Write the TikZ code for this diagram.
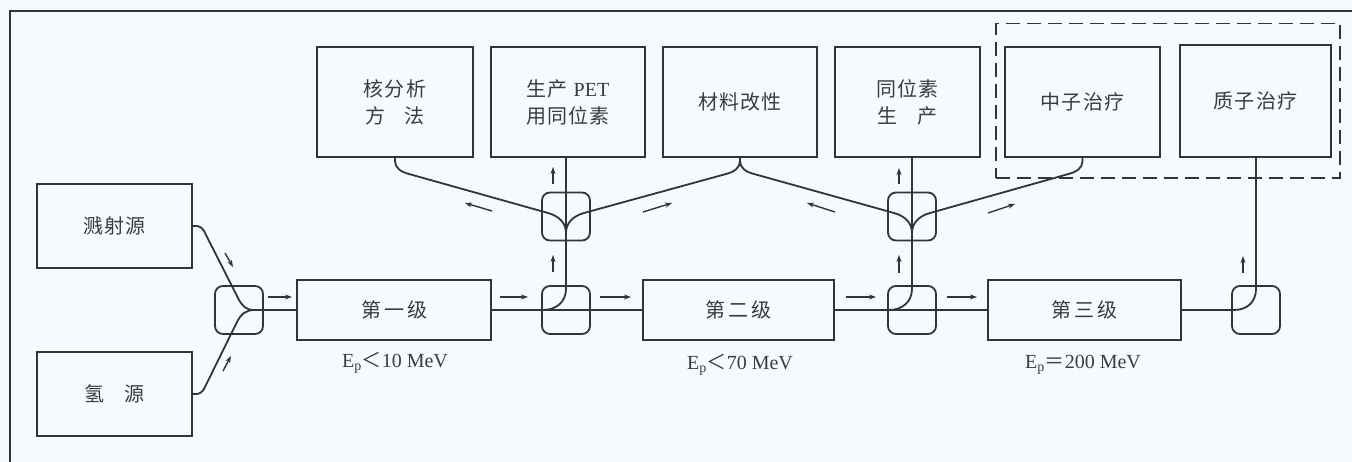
\documentclass[tikz,border=0pt]{standalone}
\usepackage{fontspec}
\setmainfont{Liberation Serif}
\newfontfamily\cjk[LetterSpace=6]{Noto Sans CJK SC}
\newfontfamily\cjkplain{Noto Sans CJK SC}
\usetikzlibrary{arrows.meta,fit}
\definecolor{ink}{RGB}{50,52,56}
\definecolor{paper}{RGB}{245,250,252}
\definecolor{txt}{RGB}{58,60,64}
\begin{document}
\begin{tikzpicture}[x=1pt,y=-1pt,
 box/.style={draw=ink,line width=1.8pt,inner sep=0pt,align=center,text=txt,font=\cjk\fontsize{20}{27}\selectfont},
 mbox/.style={draw=ink,line width=1.8pt,rounded corners=8pt,minimum width=48pt,minimum height=48pt,inner sep=0pt},
 conn/.style={draw=ink,line width=1.8pt},
 flow/.style={draw=ink,line width=1.4pt,-{Stealth[length=7pt,width=5pt]}},
 elabel/.style={text=txt,font=\fontsize{20}{22}\selectfont,inner sep=0pt}]

\fill[paper] (0,0) rectangle (1352,462);
\useasboundingbox (0,0) rectangle (1352,462);

% frame
\coordinate (fbl) at (10,462);
\coordinate (ftl) at (10,11);
\coordinate (ftr) at (1352,11);
\draw[ink,line width=1.4pt] (fbl) -- (ftl) -- (ftr);

% sources
\node[box,minimum width=155pt,minimum height=84pt] (src1) at (114.5,226) {溅射源};
\node[box,minimum width=155pt,minimum height=84pt] (src2) at (114.5,394) {氢\quad 源};

% switch boxes
\node[mbox] (mb1) at (239,310) {};
\node[mbox] (mb2) at (566,310) {};
\node[mbox] (mb3) at (912,310) {};
\node[mbox] (mb4) at (1256,310) {};
\node[mbox] (ub2) at (566,216.5) {};
\node[mbox] (ub3) at (912,216.5) {};

% stages
\node[box,minimum width=194pt,minimum height=60pt] (st1) at (394,310) {第\hspace{3pt}一\hspace{3pt}级};
\node[box,minimum width=191pt,minimum height=60pt] (st2) at (738.5,310) {第\hspace{3pt}二\hspace{3pt}级};
\node[box,minimum width=193pt,minimum height=60pt] (st3) at (1084.5,310) {第\hspace{3pt}三\hspace{3pt}级};

\node[elabel] (e1) at (395,363) {E\textsubscript{p}{\cjkplain ＜}10 MeV};
\node[elabel] (e2) at (740,365) {E\textsubscript{p}{\cjkplain ＜}70 MeV};
\node[elabel] (e3) at (1083,365) {E\textsubscript{p}{\cjkplain ＝}200 MeV};

% applications
\node[box,minimum width=156pt,minimum height=110pt] (t1) at (395,102) {核分析\\方\quad 法};
\node[box,minimum width=154pt,minimum height=110pt] (t2) at (568,102) {生产 {\rmfamily PET}\\用同位素};
\node[box,minimum width=154pt,minimum height=110pt] (t3) at (740,102) {材料改性};
\node[box,minimum width=145pt,minimum height=110pt] (t4) at (907.5,102) {同位素\\生\quad 产};
\node[box,minimum width=155pt,minimum height=110pt] (t5) at (1082.5,102) {中子治疗};
\node[box,minimum width=151pt,minimum height=112pt] (t6) at (1255.5,101) {质子治疗};
\node[draw=ink,line width=1.8pt,dash pattern=on 14pt off 7pt,fit=(t5)(t6),inner xsep=8pt,inner ysep=20.5pt] (grp) {};

% source merge
\coordinate (j1) at (254,310);
\draw[conn] (src1.east) -- (196,226) .. controls (200,226) and (202,228) .. (204,231) -- (238,298) .. controls (242,306) and (246,310) .. (j1);
\draw[conn] (src2.east) -- (196,394) .. controls (200,394) and (202,392) .. (204,389) -- (237,322) .. controls (241,314) and (246,310) .. (j1);

% main beam line
\draw[conn] (j1) -- (st1.west);
\draw[conn] (st1.east) -- (st2.west);
\draw[conn] (st2.east) -- (st3.west);
\coordinate (k4) at (1234,310);
\draw[conn] (st3.east) -- (k4) .. controls (1247,310) and (1256,302) .. (1256,289) -- (mb4.center |- t6.south);

% branches up
\coordinate (k2) at (543,310);
\draw[conn] (k2) .. controls (556,310) and (566,302) .. (566,289) -- (mb2.center |- t2.south);
\coordinate (k3) at (889,310);
\draw[conn] (k3) .. controls (902,310) and (912,302) .. (912,289) -- (mb3.center |- t4.south);

% V branches
\coordinate (J2) at (566,233);
\coordinate (J3) at (912,233);
\draw[conn] (t1.south) -- (395,161) .. controls (395,168) and (401,172) .. (409,174) -- (548,213) .. controls (559,216) and (566,223) .. (J2);
\draw[conn] (t3.south) -- (740,161) .. controls (740,168) and (734,172) .. (726,174) -- (584,213) .. controls (573,216) and (566,223) .. (J2);
\draw[conn] (740,161) .. controls (740,168) and (746,172) .. (754,174) -- (894,213) .. controls (905,216) and (912,223) .. (J3);
\draw[conn] (t5.south) -- (1082.5,161) .. controls (1082.5,168) and (1076.5,172) .. (1068.5,174) -- (930,213) .. controls (919,216) and (912,223) .. (J3);

% direction arrows
\draw[flow] (268,297) -- (292,297);
\draw[flow] (500,297) -- (528,297);
\draw[flow] (600,297) -- (631,297);
\draw[flow] (846,297) -- (876,297);
\draw[flow] (947,297) -- (977,297);
\draw[flow] (553,272) -- (553,255);
\draw[flow] (553,184) -- (553,167);
\draw[flow] (899,273) -- (899,255);
\draw[flow] (899,184) -- (899,168);
\draw[flow] (1243,273) -- (1243,256);
\draw[flow] (225,253) -- (233,267);
\draw[flow] (223,371) -- (231,356);
\draw[flow] (492,211) -- (465,203);
\draw[flow] (643,212) -- (672,203);
\draw[flow] (835,212) -- (807,203);
\draw[flow] (988,213) -- (1015,204);
\end{tikzpicture}
\end{document}
